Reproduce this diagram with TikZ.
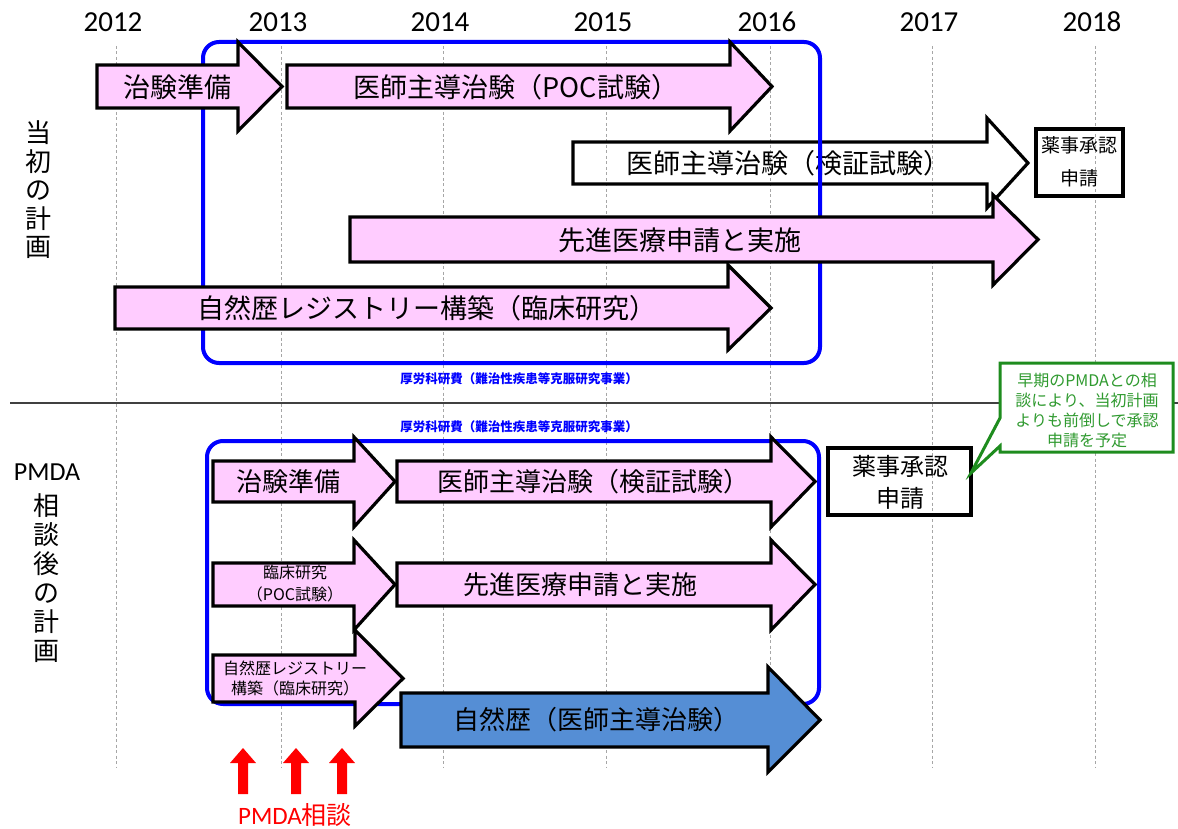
\documentclass[tikz,border=0pt]{standalone}
\usepackage{fontspec}
\setmainfont{Carlito}
\newfontfamily\jp{Noto Sans CJK JP}
\definecolor{pinkf}{HTML}{FFCCFF}
\definecolor{bluef}{HTML}{558ED5}
\definecolor{boxblue}{HTML}{0000FF}
\definecolor{callline}{HTML}{1E8C1E}
\definecolor{calltext}{HTML}{2F9A2F}
\newcommand{\blockarrow}[8]{%
  \draw[#1] (#2,#3) -- (#5,#3) -- (#5,#6) -- (#8,{(#3+#4)/2}) -- (#5,#7) -- (#5,#4) -- (#2,#4) -- cycle;}
\newcommand{\redup}[1]{%
  \fill[red] ({#1-5},794) -- ({#1-5},763) -- ({#1-13},763) -- (#1,748) -- ({#1+13},763) -- ({#1+5},763) -- ({#1+5},794) -- cycle;}
\tikzset{
  grid line/.style={gray!70, line width=0.9pt, dash pattern=on 3pt off 2.5pt},
  pinkarrow/.style={draw=black, line width=3.2pt, fill=pinkf, line join=miter},
  whitearrow/.style={draw=black, line width=3.2pt, line join=miter},
  bluearrow/.style={draw=black, line width=3.2pt, fill=bluef, line join=miter},
  fundbox/.style={draw=boxblue, line width=4pt, rounded corners=16pt},
  lbl/.style={inner sep=0pt, font={\jp\fontsize{26}{30}\selectfont}},
  biglbl/.style={inner sep=0pt, font={\jp\fontsize{27}{30}\selectfont}},
  smalllbl/.style={inner sep=0pt, align=center, font={\jp\fontsize{16}{20}\selectfont}},
  boxlbl/.style={inner sep=0pt, align=center, font={\jp\fontsize{24}{32}\selectfont}},
  yearlbl/.style={inner sep=0pt, font={\fontsize{29}{32}\selectfont}},
  fundlbl/.style={inner sep=0pt, text=boxblue, font={\jp\bfseries\fontsize{12.5}{14}\selectfont}},
  sidelbl/.style={inner sep=0pt, align=center},
}
\begin{document}
\begin{tikzpicture}[x=1pt,y=-1pt]
\useasboundingbox (0,0) rectangle (1178,829);
% grid lines and years
\foreach \x/\yr [count=\i] in {116/2012,281/2013,443/2014,606/2015,770/2016,932/2017,1095/2018}{
  \draw[grid line] (\x,46) -- (\x,767);
  \node[yearlbl] (year\i) at ({\x-3},22) {\yr};
}
% separator
\draw[black!75, line width=1.5pt] (10,403) -- (1178,403);

% ---------- upper plan ----------
\blockarrow{whitearrow}{573}{142}{184}{987}{118}{208}{1028}
\node[biglbl] (u3) at (788,163) {医師主導治験（検証試験）};
\draw[black, line width=3.2pt] (1036,129) rectangle (1123,196);
\node[boxlbl, font={\jp\fontsize{19}{33}\selectfont}] (uapp) at (1079,162) {薬事承認\\申請};

\draw[fundbox] (203,42) rectangle (820,363);
\node[fundlbl] (fund1) at (519,379) {厚労科研費（難治性疾患等克服研究事業）};

\blockarrow{pinkarrow}{97}{65}{108}{238}{42}{131}{282}
\node[biglbl] (u1) at (177,87) {治験準備};
\blockarrow{pinkarrow}{287}{65}{108}{730}{42}{131}{772}
\node[biglbl] (u2) at (516,87) {医師主導治験（POC試験）};
\blockarrow{pinkarrow}{350}{217}{262}{993}{195}{285}{1038}
\node[biglbl] (u4) at (680,240) {先進医療申請と実施};
\blockarrow{pinkarrow}{115}{287}{329}{728}{265}{350}{771}
\node[biglbl] (u5) at (427,308) {自然歴レジストリー構築（臨床研究）};

\node[sidelbl, font={\jp\fontsize{26}{28.5}\selectfont}] (plan1) at (38,190) {当\\初\\の\\計\\画};

% ---------- lower plan ----------
\node[yearlbl, font={\fontsize{26}{28}\selectfont}] (pmda) at (47,472) {PMDA};
\node[sidelbl, font={\jp\fontsize{26}{29}\selectfont}] (plan2) at (47,578) {相\\談\\後\\の\\計\\画};

\draw[black, line width=3.2pt] (828,448) rectangle (971,515);
\node[boxlbl] (lapp) at (900,482) {薬事承認\\申請};

\draw[fundbox] (207,441) rectangle (819,704);
\node[fundlbl] (fund2) at (519,427) {厚労科研費（難治性疾患等克服研究事業）};

\blockarrow{pinkarrow}{213}{461}{502}{354}{437}{527}{395}
\node[lbl] (l1) at (288,482) {治験準備};
\blockarrow{pinkarrow}{397}{461}{502}{771}{437}{527}{815}
\node[lbl] (l2) at (593,482) {医師主導治験（検証試験）};
\blockarrow{pinkarrow}{213}{563}{606}{354}{540}{630}{395}
\node[smalllbl, font={\jp\fontsize{16}{22}\selectfont}] (l3) at (295,584) {臨床研究\\（POC試験）};
\blockarrow{pinkarrow}{397}{563}{606}{771}{540}{630}{815}
\node[lbl] (l4) at (580,585) {先進医療申請と実施};
\blockarrow{pinkarrow}{213}{655}{702}{355}{630}{726}{403}
\node[smalllbl, font={\jp\fontsize{16}{20}\selectfont}] (l5) at (295,678) {自然歴レジストリー\\構築（臨床研究）};
\blockarrow{bluearrow}{401}{693}{747}{768}{667}{772}{820}
\node[lbl] (l6) at (596,720) {自然歴（医師主導治験）};

% callout
\draw[draw=callline, line width=3pt, fill=white, line join=miter]
  (1000,363) -- (1173,363) -- (1173,452) -- (1000,452) -- (1000,446) -- (971,473) -- (1000,418) -- cycle;
\node[smalllbl, text=calltext] (note) at (1087,410) {早期のPMDAとの相\\談により、当初計画\\よりも前倒しで承認\\申請を予定};

% PMDA consultations
\redup{243}
\redup{296}
\redup{342}
\node[inner sep=0pt, text=red, font={\fontsize{25}{28}\selectfont}] (cons) at (295,815) {PMDA{\jp 相談}};
\end{tikzpicture}
\end{document}
